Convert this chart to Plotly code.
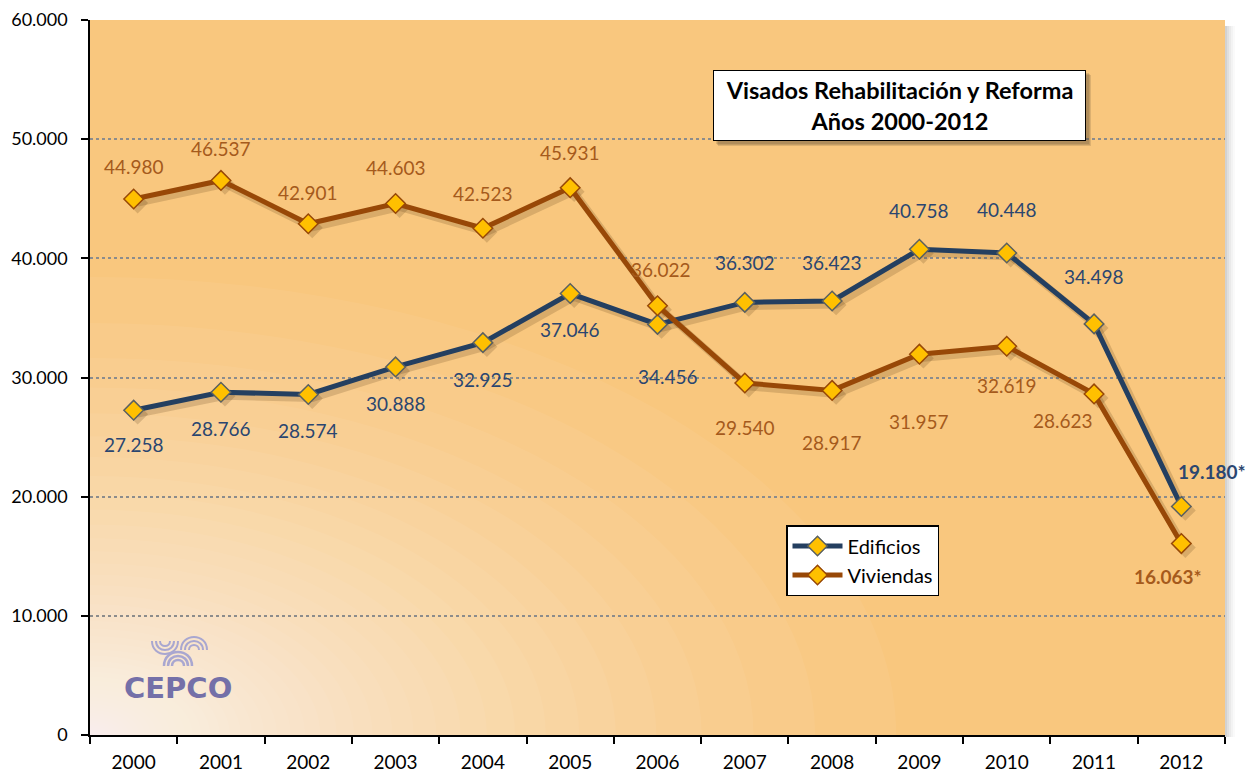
import math
import plotly.graph_objects as go

years = ["2000", "2001", "2002", "2003", "2004", "2005", "2006",
         "2007", "2008", "2009", "2010", "2011", "2012"]
edificios = [27258, 28766, 28574, 30888, 32925, 37046, 34456,
             36302, 36423, 40758, 40448, 34498, 19180]
viviendas = [44980, 46537, 42901, 44603, 42523, 45931, 36022,
             29540, 28917, 31957, 32619, 28623, 16063]
y_ticks = [0, 10000, 20000, 30000, 40000, 50000, 60000]

# label offsets in pixels (style, not data)
ed_dx = [0, 0, 0, 0, 0, 0, 10, 0, 0, 0, 0, 0, 31]
ed_dy = [-34, -36, -36, -37, -37, -36, -52, 40, 38, 39, 43, 47, 35]
vi_dx = [0, 0, 0, 0, 0, 0, 3, 0, 0, 0, 0, -31, -13]
vi_dy = [32, 32, 31, 36, 35, 35, 36, -45, -52, -67, -39, -27, -33]

# page body has an 8px margin; figure fills the rest of the viewport
OFF = 8
W, H = 1253 - OFF, 774 - OFF
PL, PR, PT, PB = 90, 1225, 20, 735          # plot area in page pixels
ML, MT = PL - OFF, PT - OFF
MR, MB = W - (PR - OFF), H - (PB - OFF)
PW, PH = PR - PL, PB - PT
YMAX = 60000
n = len(years)

ED_LINE = "#243F60"
VI_LINE = "#984807"
ED_TXT = "#2B4670"
VI_TXT = "#A55A1C"
GOLD = "#FFC000"
ORANGE = "#F9C77E"
FONT = "Lato"
FS = 19


def fmt(v):
    return f"{v:,}".replace(",", ".")


def px(xp):
    return (xp - PL) / PW


def py(yp):
    return (PB - yp) / PH


fig = go.Figure()

# drop shadows (same data, axes offset by a few pixels)
for vals in (edificios, viviendas):
    fig.add_trace(go.Scatter(
        x=years, y=vals, mode="lines+markers", xaxis="x2", yaxis="y2",
        showlegend=False, hoverinfo="skip",
        line=dict(color="rgba(70,45,10,0.18)", width=7),
        marker=dict(symbol="diamond", size=16, color="rgba(70,45,10,0.18)",
                    line=dict(width=0))))

fig.add_trace(go.Scatter(
    x=years, y=edificios, name="Edificios", mode="lines+markers",
    xaxis="x3", yaxis="y3",
    line=dict(color=ED_LINE, width=5),
    marker=dict(symbol="diamond", size=15, color=GOLD,
                line=dict(color="#5B6060", width=1.5)),
))
fig.add_trace(go.Scatter(
    x=years, y=viviendas, name="Viviendas", mode="lines+markers",
    xaxis="x3", yaxis="y3",
    line=dict(color=VI_LINE, width=5),
    marker=dict(symbol="diamond", size=15, color=GOLD,
                line=dict(color=VI_LINE, width=1.5)),
))

annotations = []
for i in range(n):
    last = i == n - 1
    annotations.append(dict(
        x=i, y=edificios[i], xref="x", yref="y",
        text=(f"<b>{fmt(edificios[i])}*</b>" if last else fmt(edificios[i])),
        showarrow=False, xshift=ed_dx[i], yshift=ed_dy[i],
        xanchor="center", yanchor="middle",
        font=dict(family=FONT, size=FS, color=ED_TXT)))
    annotations.append(dict(
        x=i, y=viviendas[i], xref="x", yref="y",
        text=(f"<b>{fmt(viviendas[i])}*</b>" if last else fmt(viviendas[i])),
        showarrow=False, xshift=vi_dx[i], yshift=vi_dy[i],
        xanchor="center", yanchor="middle",
        font=dict(family=FONT, size=FS, color=VI_TXT)))

# title box
annotations.append(dict(
    x=px(899.5), y=py(105.5), xref="paper", yref="paper",
    xanchor="center", yanchor="middle",
    text="<b>Visados Rehabilitación y Reforma<br>Años 2000-2012</b>",
    showarrow=False, align="center", width=365, height=63,
    bgcolor="white", bordercolor="black", borderwidth=1, borderpad=3,
    font=dict(family=FONT, size=23.5, color="black")))

# logo text
annotations.append(dict(
    x=px(178), y=py(688), xref="paper", yref="paper",
    xanchor="center", yanchor="middle",
    text="<b>CEPCO</b>", showarrow=False,
    font=dict(family="DejaVu Sans", size=29, color="#7470A8")))

shapes = []
# radial gradient from bottom-left corner (style)
A = 0.05
N = int(math.ceil(math.log(0.08) / math.log(1 - A)))
RX, RY, P = 880.0, 500.0, 1.45
for k in range(1, N + 1):
    w = 1 - (1 - A) ** (k - 0.5)
    frac = 1 - min(w / 0.92, 1.0) ** (1 / P)
    fx, fy = RX * frac, RY * frac
    shapes.append(dict(
        type="circle", xref="x", yref="y", layer="below",
        x0=-0.5 - fx / (PW / n), x1=-0.5 + fx / (PW / n),
        y0=-fy * YMAX / PH, y1=fy * YMAX / PH,
        fillcolor="white", opacity=A, line=dict(width=0)))

# logo symbol (light line art)
LC = "#A9A7D0"


def arch(cx, cy, r):
    k = 1.3333 * r
    return (f"M{px(cx - r)},{py(cy)} C{px(cx - r)},{py(cy - k)} "
            f"{px(cx + r)},{py(cy - k)} {px(cx + r)},{py(cy)}")


def cup(cx, cy, r):
    k = 1.3333 * r
    return (f"M{px(cx - r)},{py(cy)} C{px(cx - r)},{py(cy + k)} "
            f"{px(cx + r)},{py(cy + k)} {px(cx + r)},{py(cy)}")


for r in (6, 10, 14):
    shapes.append(dict(type="path", xref="paper", yref="paper",
                       path=arch(178, 666, r), line=dict(color=LC, width=2.5)))
for r in (5, 9, 13):
    shapes.append(dict(type="path", xref="paper", yref="paper",
                       path=cup(165, 641, r), line=dict(color=LC, width=2)))
    shapes.append(dict(type="path", xref="paper", yref="paper",
                       path=arch(194, 650, r), line=dict(color=LC, width=2)))

# shadow at right of plot area
for j, op in enumerate([0.35, 0.25, 0.16, 0.09, 0.04]):
    shapes.append(dict(
        type="rect", xref="paper", yref="paper", layer="below",
        x0=1 + (2 * j) / PW, x1=1 + (2 * j + 2) / PW,
        y0=-2 / PH, y1=1 - 6 / PH,
        fillcolor="#7F7F7F", opacity=op, line=dict(width=0)))

# title box shadow
for d, op in ((5, 0.18), (4, 0.18), (3, 0.18)):
    shapes.append(dict(
        type="rect", xref="paper", yref="paper", layer="above",
        x0=px(713 + d), x1=px(1086 + d), y0=py(141 + d), y1=py(70 + d),
        fillcolor="#5A4A30", opacity=op, line=dict(width=0)))

sx = 4 / (PW / n)
sy = 4 * YMAX / PH
fig.update_layout(
    width=W, height=H,
    margin=dict(l=ML, r=MR, t=MT, b=MB, autoexpand=False),
    paper_bgcolor="white", plot_bgcolor=ORANGE,
    separators=",.",
    font=dict(family=FONT, size=FS, color="black"),
    showlegend=True,
    legend=dict(
        x=px(786), y=py(525), xanchor="left", yanchor="top",
        bgcolor="white", bordercolor="black", borderwidth=1.5,
        font=dict(family=FONT, size=20, color="black"),
        itemwidth=50, tracegroupgap=2),
    annotations=annotations,
    shapes=shapes,
    xaxis2=dict(overlaying="x", type="category", visible=False,
                range=[-0.5 - sx, n - 0.5 - sx]),
    yaxis2=dict(overlaying="y", visible=False, range=[sy, YMAX + sy]),
    xaxis3=dict(overlaying="x", type="category", visible=False,
                range=[-0.5, n - 0.5]),
    yaxis3=dict(overlaying="y", visible=False, range=[0, YMAX]),
)
fig.update_layout(xaxis=dict(
    type="category", categoryarray=years, categoryorder="array",
    tickmode="array", tickvals=list(range(n)), ticktext=years,
    tickson="boundaries", ticks="outside", ticklen=7,
    tickcolor="black", tickwidth=1.5, showline=True, linecolor="black",
    linewidth=1.5, showgrid=False, range=[-0.5, n - 0.5], automargin=False,
    ticklabelstandoff=9,
    tickfont=dict(family=FONT, size=FS, color="black")))
fig.update_layout(yaxis=dict(
    range=[0, YMAX], tickvals=y_ticks, tickformat=",d",
    ticks="outside", ticklen=7, tickcolor="black", tickwidth=1.5,
    showline=True, linecolor="black", linewidth=1.5, automargin=False,
    showgrid=True, gridcolor="#8C8C8C", gridwidth=1.5, griddash="dot",
    zeroline=False, ticklabeloverflow="allow", ticklabelstandoff=10,
    tickfont=dict(family=FONT, size=18, color="black")))

fig.write_html("out.html")
